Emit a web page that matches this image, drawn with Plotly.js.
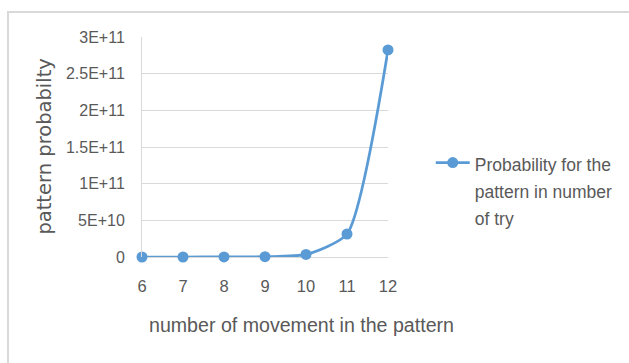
<!DOCTYPE html>
<html>
<head>
<meta charset="utf-8">
<script src="https://cdn.plot.ly/plotly-3.0.1.min.js"></script>
<style>
  html, body { margin: 0; padding: 0; background: #ffffff; overflow: hidden; }
  #frame { position: absolute; left: 7px; top: 11px; width: 660px; height: 420px;
           border: 2px solid #d9d9d9; box-sizing: border-box; }
  #chart { position: absolute; left: 0; top: 0; width: 629px; height: 363px; }
</style>
</head>
<body>
<div id="frame"></div>
<div id="chart"></div>
<script>
// Number of moves in a pattern and the matching probability value
const movements = [6, 7, 8, 9, 10, 11, 12];
const probability = [531441, 4782969, 43046721, 387420489, 3486784401, 31381059609, 282429536481];

// Value axis ticks, written the way the spreadsheet shows them
const yTickValues = [0, 5e10, 1e11, 1.5e11, 2e11, 2.5e11, 3e11];
const yTickLabels = ['0', '5E+10', '1E+11', '1.5E+11', '2E+11', '2.5E+11', '3E+11'];

const seriesLines = ['Probability for the', 'pattern in number', 'of try'];
const xTitle = 'number of movement in the pattern';
const yTitle = 'pattern probabilty';

const sans = "'Liberation Sans', Arial, sans-serif";
const grey = '#595959';
const blue = '#5b9bd5';

// legend lines sit further apart than the glyph size alone would give,
// so the outer font sets the spacing and an inner span sets the glyph size
const seriesName = seriesLines
  .map(function (s) { return '<span style="font-size:17.5px">' + s + '</span>'; })
  .join('<br>');

Plotly.newPlot('chart', [{
  x: movements,
  y: probability,
  type: 'scatter',
  mode: 'lines+markers',
  name: seriesName,
  line: { color: blue, width: 2.75, shape: 'spline', smoothing: 0.6 },
  marker: { color: blue, size: 11 },
  cliponaxis: false
}], {
  width: 629,
  height: 363,
  paper_bgcolor: 'rgba(0,0,0,0)',
  plot_bgcolor: 'rgba(0,0,0,0)',
  margin: { l: 142, r: 240, t: 37, b: 106 },
  font: { family: sans, color: grey, size: 14 },
  showlegend: true,
  legend: {
    x: 1.169, y: 0.305, xanchor: 'left', yanchor: 'middle',
    valign: 'top',
    font: { family: sans, size: 21, color: grey },
    bgcolor: 'rgba(0,0,0,0)',
    itemwidth: 34
  },
  xaxis: {
    range: [6, 12],
    tickvals: movements,
    showgrid: false,
    zeroline: false,
    showline: false,
    ticks: 'outside', ticklen: 14, tickcolor: 'rgba(0,0,0,0)',
    tickfont: { family: sans, size: 16.5, color: grey }
  },
  yaxis: {
    range: [0, 3e11],
    tickvals: yTickValues,
    ticktext: yTickLabels,
    showgrid: true, gridcolor: '#d9d9d9', gridwidth: 1,
    zeroline: true, zerolinecolor: '#d9d9d9', zerolinewidth: 1,
    showline: true, linecolor: '#d9d9d9', linewidth: 1,
    ticks: 'outside', ticklen: 13, tickcolor: 'rgba(0,0,0,0)',
    tickfont: { family: sans, size: 16, color: grey }
  },
  annotations: [
    {
      text: xTitle, xref: 'paper', yref: 'paper',
      x: 0.65, y: -0.31, xanchor: 'center', yanchor: 'middle',
      showarrow: false,
      font: { family: sans, size: 19.6, color: grey }
    },
    {
      text: yTitle, xref: 'paper', yref: 'paper',
      x: -0.40, y: 0.5, xanchor: 'center', yanchor: 'middle',
      textangle: -90, showarrow: false,
      font: { family: "'DejaVu Sans', sans-serif", size: 19.5, color: grey }
    }
  ]
}, { displayModeBar: false, staticPlot: true });
</script>
</body>
</html>
